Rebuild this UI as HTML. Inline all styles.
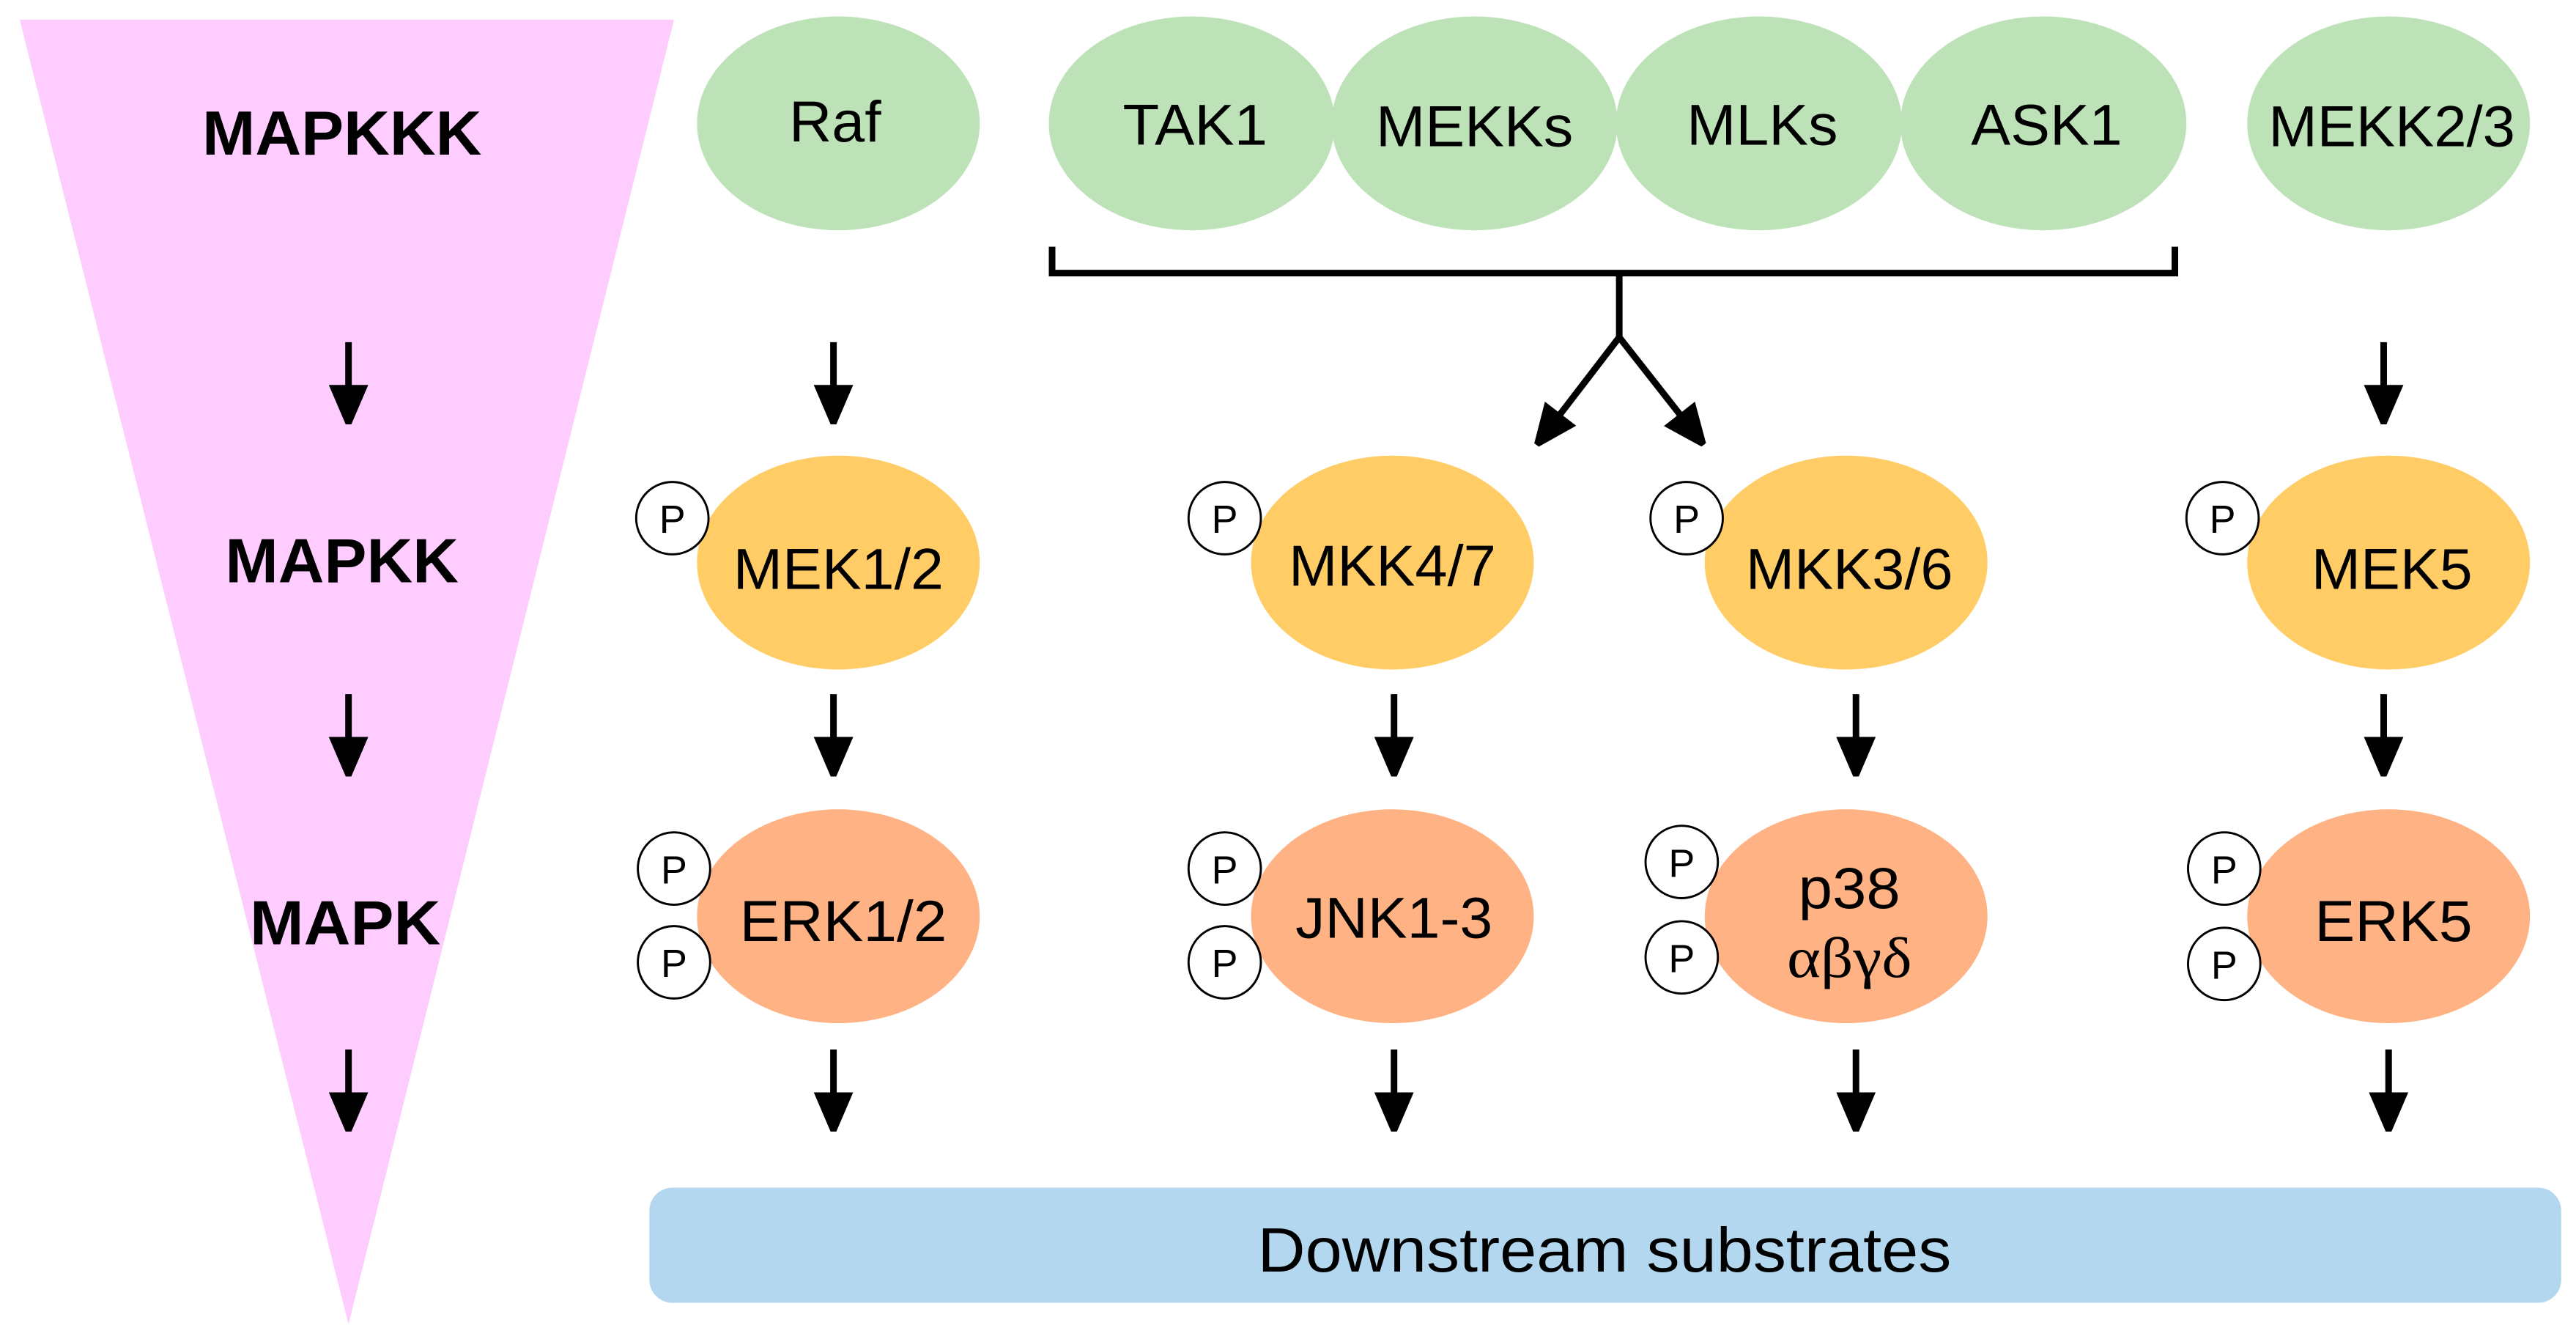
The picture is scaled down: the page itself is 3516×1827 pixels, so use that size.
<!DOCTYPE html>
<html><head><meta charset="utf-8"><style>html,body{margin:0;padding:0;background:#fff}svg{display:block}</style></head>
<body>
<svg width="3516" height="1827" viewBox="0 0 1567 814" preserveAspectRatio="none" xmlns="http://www.w3.org/2000/svg" font-family="Liberation Sans, sans-serif">
<defs>
<marker id="ah" markerWidth="6" markerHeight="6" refX="3" refY="3" orient="auto" markerUnits="strokeWidth"><path d="M0,0 L7,3 L0,6 z" fill="#000"/></marker>
</defs>
<polygon points="12,12 410,12 212,805" fill="#ffccff"/>
<g font-weight="bold" font-size="38" text-anchor="middle" fill="#000">
<text x="208" y="94" textLength="170" lengthAdjust="spacingAndGlyphs">MAPKKK</text>
<text x="208" y="354" textLength="142" lengthAdjust="spacingAndGlyphs">MAPKK</text>
<text x="210" y="574" textLength="116" lengthAdjust="spacingAndGlyphs">MAPK</text>
</g>
<g fill="#bde2b8">
<ellipse cx="510" cy="75" rx="86" ry="65"/>
<ellipse cx="725" cy="75" rx="87" ry="65"/>
<ellipse cx="897" cy="75" rx="87" ry="65"/>
<ellipse cx="1070" cy="75" rx="87" ry="65"/>
<ellipse cx="1243" cy="75" rx="87" ry="65"/>
<ellipse cx="1453" cy="75" rx="86" ry="65"/>
</g>
<g fill="#ffcc66">
<ellipse cx="510" cy="342" rx="86" ry="65"/>
<ellipse cx="847" cy="342" rx="86" ry="65"/>
<ellipse cx="1123" cy="342" rx="86" ry="65"/>
<ellipse cx="1453" cy="342" rx="86" ry="65"/>
</g>
<g fill="#ffb384">
<ellipse cx="510" cy="557" rx="86" ry="65"/>
<ellipse cx="847" cy="557" rx="86" ry="65"/>
<ellipse cx="1123" cy="557" rx="86" ry="65"/>
<ellipse cx="1453" cy="557" rx="86" ry="65"/>
</g>
<g font-size="35" text-anchor="middle" fill="#000" lengthAdjust="spacingAndGlyphs">
<text x="508" y="86" textLength="56" lengthAdjust="spacingAndGlyphs">Raf</text>
<text x="727" y="88" textLength="88" lengthAdjust="spacingAndGlyphs">TAK1</text>
<text x="897" y="89" textLength="120" lengthAdjust="spacingAndGlyphs">MEKKs</text>
<text x="1072" y="88" textLength="92" lengthAdjust="spacingAndGlyphs">MLKs</text>
<text x="1245" y="88" textLength="92" lengthAdjust="spacingAndGlyphs">ASK1</text>
<text x="1455" y="89" textLength="150" lengthAdjust="spacingAndGlyphs">MEKK2/3</text>
<text x="510" y="358" textLength="128" lengthAdjust="spacingAndGlyphs">MEK1/2</text>
<text x="847" y="356" textLength="126" lengthAdjust="spacingAndGlyphs">MKK4/7</text>
<text x="1125" y="358" textLength="126" lengthAdjust="spacingAndGlyphs">MKK3/6</text>
<text x="1455" y="358" textLength="98" lengthAdjust="spacingAndGlyphs">MEK5</text>
<text x="513" y="572" textLength="126" lengthAdjust="spacingAndGlyphs">ERK1/2</text>
<text x="848" y="570" textLength="120" lengthAdjust="spacingAndGlyphs">JNK1-3</text>
<text x="1125" y="552" textLength="62" lengthAdjust="spacingAndGlyphs">p38</text>
<text x="1125" y="594" font-family="Liberation Serif, serif" textLength="76" lengthAdjust="spacingAndGlyphs">αβγδ</text>
<text x="1456" y="572" textLength="96" lengthAdjust="spacingAndGlyphs">ERK5</text>
</g>
<g fill="#fff" stroke="#000" stroke-width="1.3">
<circle cx="409" cy="315" r="22"/>
<circle cx="745" cy="315" r="22"/>
<circle cx="1026" cy="315" r="22"/>
<circle cx="1352" cy="315" r="22"/>
<circle cx="410" cy="528" r="22"/><circle cx="410" cy="585" r="22"/>
<circle cx="745" cy="528" r="22"/><circle cx="745" cy="585" r="22"/>
<circle cx="1023" cy="524" r="22"/><circle cx="1023" cy="582" r="22"/>
<circle cx="1353" cy="528" r="22"/><circle cx="1353" cy="586" r="22"/>
</g>
<g font-size="24" text-anchor="middle" fill="#000">
<text x="409" y="324">P</text><text x="745" y="324">P</text><text x="1026" y="324">P</text><text x="1352" y="324">P</text>
<text x="410" y="537">P</text><text x="410" y="594">P</text>
<text x="745" y="537">P</text><text x="745" y="594">P</text>
<text x="1023" y="533">P</text><text x="1023" y="591">P</text>
<text x="1353" y="537">P</text><text x="1353" y="595">P</text>
</g>
<path d="M640,150 L640,166 L1323,166 L1323,150 M985,166 L985,205" fill="none" stroke="#000" stroke-width="4"/>
<g stroke="#000" stroke-width="4" fill="none" marker-end="url(#ah)">
<line x1="212" y1="208" x2="212" y2="246"/>
<line x1="212" y1="422" x2="212" y2="460"/>
<line x1="212" y1="638" x2="212" y2="676"/>
<line x1="507" y1="208" x2="507" y2="246"/>
<line x1="507" y1="422" x2="507" y2="460"/>
<line x1="507" y1="638" x2="507" y2="676"/>
<line x1="848" y1="422" x2="848" y2="460"/>
<line x1="848" y1="638" x2="848" y2="676"/>
<line x1="1129" y1="422" x2="1129" y2="460"/>
<line x1="1129" y1="638" x2="1129" y2="676"/>
<line x1="1450" y1="208" x2="1450" y2="246"/>
<line x1="1450" y1="422" x2="1450" y2="460"/>
<line x1="1453" y1="638" x2="1453" y2="676"/>
<line x1="985" y1="205" x2="942" y2="261"/>
<line x1="985" y1="205" x2="1029" y2="261"/>
</g>
<rect x="395" y="722" width="1163" height="70" rx="14" fill="#b3d7ef"/>
<text x="976" y="773" font-size="38" text-anchor="middle" fill="#000" textLength="422" lengthAdjust="spacingAndGlyphs">Downstream  substrates</text>
</svg>
</body></html>
